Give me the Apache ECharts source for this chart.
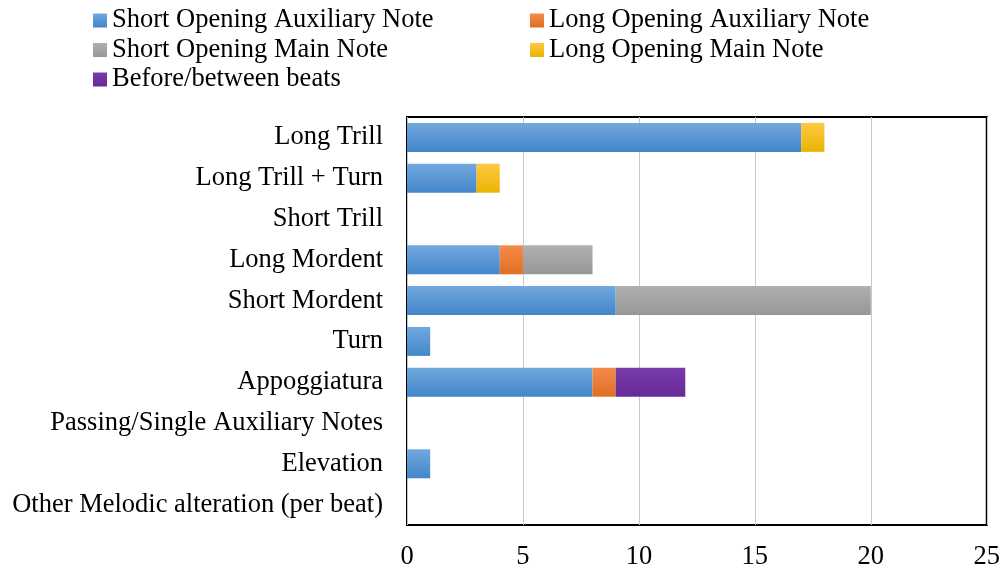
<!DOCTYPE html>
<html>
<head>
<meta charset="utf-8">
<script src="https://cdn.jsdelivr.net/npm/echarts@6/dist/echarts.min.js"></script>
<style>
html,body{margin:0;padding:0;background:#fff;}
#main{width:1003px;height:572px;}
</style>
</head>
<body>
<div id="main"></div>
<script>
var categories = ['Long Trill','Long Trill + Turn','Short Trill','Long Mordent','Short Mordent','Turn','Appoggiatura','Passing/Single Auxiliary Notes','Elevation','Other Melodic alteration (per beat)'];
var shortOpeningAux = [17,3,0,4,9,1,8,0,1,0];
var longOpeningAux = [0,0,0,1,0,0,1,0,0,0];
var shortOpeningMain = [0,0,0,3,11,0,0,0,0,0];
var longOpeningMain = [1,1,0,0,0,0,0,0,0,0];
var beforeBetween = [0,0,0,0,0,0,3,0,0,0];
var xTicks = [0,5,10,15,20,25];

var font = 'Liberation Serif';

function grad(top, bottom){
  return new echarts.graphic.LinearGradient(0,0,0,1,[{offset:0,color:top},{offset:1,color:bottom}]);
}

function bar(name, data, c1, c2){
  return {
    name: name,
    type: 'bar',
    stack: 'all',
    barCategoryGap: '29%',
    data: data,
    itemStyle: {color: grad(c1, c2)}
  };
}

var myChart = echarts.init(document.getElementById('main'));
var legendText = {fontFamily: font, fontSize: 26.5, color: '#000', lineHeight: 27};
var option = {
  animation: false,
  legend: [{
    orient: 'vertical',
    left: 88,
    top: 2,
    itemWidth: 14,
    itemHeight: 14,
    itemGap: 2.5,
    icon: 'rect',
    textStyle: legendText,
    data: ['Short Opening Auxiliary Note','Short Opening Main Note','Before/between beats']
  },{
    orient: 'vertical',
    left: 525,
    top: 2,
    itemWidth: 14,
    itemHeight: 14,
    itemGap: 2.5,
    icon: 'rect',
    textStyle: legendText,
    data: ['Long Opening Auxiliary Note','Long Opening Main Note']
  }],
  grid: {
    left: 407,
    top: 117,
    width: 582,
    height: 408,
    show: true,
    borderColor: '#000',
    borderWidth: 2,
    containLabel: false
  },
  xAxis: {
    type: 'value',
    min: 0,
    max: 25,
    interval: 5,
    axisLine: {show: false},
    axisTick: {show: false},
    splitLine: {show: true, lineStyle: {color: '#c8c8c8', width: 1}},
    axisLabel: {
      fontFamily: font, fontSize: 26.5, color: '#000', margin: 19,
      formatter: function(v){ return xTicks.indexOf(v) >= 0 ? String(v) : ''; }
    }
  },
  yAxis: {
    type: 'category',
    inverse: true,
    data: categories,
    axisLine: {show: false},
    axisTick: {show: false},
    axisLabel: {fontFamily: font, fontSize: 26.5, color: '#000', margin: 24}
  },
  series: [
    bar('Short Opening Auxiliary Note', shortOpeningAux, '#72a8de', '#4286c8'),
    bar('Long Opening Auxiliary Note', longOpeningAux, '#f48b4a', '#e06e22'),
    bar('Short Opening Main Note', shortOpeningMain, '#b0b0b0', '#979797'),
    bar('Long Opening Main Note', longOpeningMain, '#ffc843', '#ebb400'),
    bar('Before/between beats', beforeBetween, '#7a3aaa', '#662a96')
  ]
};
myChart.setOption(option);
</script>
</body>
</html>
